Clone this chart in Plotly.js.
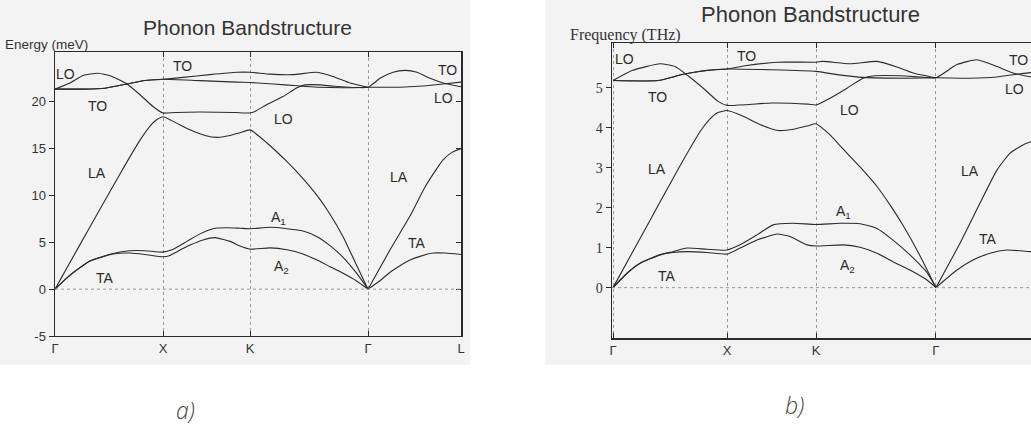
<!DOCTYPE html>
<html><head><meta charset="utf-8">
<script src="https://cdn.plot.ly/plotly-3.0.1.min.js"></script>
<style>html,body{margin:0;padding:0;background:#fff}#chart{width:1031px;height:426px}</style>
</head><body><div id="chart"></div>
<script>
// ---------- high-symmetry path ----------
const symLabels = ['Γ','X','K','Γ','L'];
const symPosA = [0, 1, 1.806, 2.898, 3.759];
const symPosB = [0, 1, 1.781, 2.833, 3.70];

// ---------- panel a) Energy (meV) ----------
const aLA_x = [0,0.231,0.417,0.602,0.787,0.880,0.944,1.0, 1.111,1.25,1.389,1.5,1.620,1.713,1.806, 1.963,2.148,2.296,2.426,2.546,2.667,2.778,2.898, null, 2.898,3.102,3.287,3.426,3.519,3.593,3.676,3.759];
const aLA_y = [0,4.75,8.55,12.3,15.9,17.4,18.1,18.4, 17.8,17.0,16.4,16.2,16.4,16.7,17.0, 15.6,13.6,11.8,10.0,8.0,5.6,2.9,0, null, 0,4.2,7.8,10.9,12.6,13.8,14.6,15.0];
const aA1_x = [0,0.139,0.324,0.537,0.694,0.833,1.0, 1.083,1.222,1.343,1.463,1.593,1.713,1.806, 1.991,2.148,2.296,2.426,2.546,2.667,2.796,2.898];
const aA1_y = [0,1.5,3.0,3.8,4.1,4.1,3.95, 4.2,5.1,5.9,6.45,6.55,6.5,6.45, 6.6,6.45,6.2,5.6,4.65,3.4,1.65,0];
const aA2_x = [0,0.139,0.324,0.537,0.694,0.833,1.0, 1.065,1.130,1.25,1.370,1.481,1.620,1.713,1.806, 1.991,2.148,2.296,2.426,2.546,2.667,2.796,2.898];
const aA2_y = [0,1.5,3.0,3.75,3.85,3.7,3.45, 3.6,4.0,4.7,5.25,5.5,5.1,4.6,4.27, 4.4,4.2,3.75,3.1,2.4,1.7,0.85,0];
const aTAL_x = [2.898,3.009,3.102,3.194,3.287,3.380,3.5,3.611,3.759];
const aTAL_y = [0,0.9,1.8,2.5,3.1,3.5,3.85,3.85,3.7];
const aLO_x = [0,0.139,0.259,0.398,0.528,0.667,0.787,0.907,1.0, 1.111,1.343,1.667,1.806, 1.852,1.963,2.111,2.241,2.315,2.454,2.593,2.898, 3.009,3.130,3.241,3.352,3.472,3.593,3.759];
const aLO_y = [21.35,22.0,22.8,23.05,22.7,21.9,20.75,19.5,18.8, 18.86,18.9,18.85,18.8, 18.97,19.7,20.55,21.5,21.8,21.8,21.65,21.55, 22.5,23.15,23.35,23.15,22.5,22.0,21.6];
const aTO1_x = [0,0.259,0.463,0.667,0.815,1.0, 1.343,1.685,1.806, 2.019,2.241,2.426,2.731,2.898, 3.194,3.444,3.593,3.759];
const aTO1_y = [21.35,21.35,21.45,21.9,22.25,22.4, 22.25,22.1,22.05, 21.9,21.7,21.55,21.5,21.55, 21.55,21.7,21.9,22.1];
const aTO2_x = [0,0.259,0.463,0.667,0.815,1.0, 1.185,1.435,1.685,1.806, 1.991,2.204,2.426,2.574,2.731,2.898];
const aTO2_y = [21.35,21.35,21.45,21.9,22.25,22.4, 22.6,22.9,23.15,23.15, 22.95,22.9,23.15,22.7,22.0,21.55];

// ---------- panel b) Frequency (THz) ----------
const bLA_x = [0,0.237,0.412,0.588,0.763,0.851,0.912,1.0, 1.132,1.289,1.447,1.596,1.711,1.781, 1.904,2.018,2.167,2.316,2.430,2.544,2.693,2.833, null, 2.833,3.044,3.219,3.368,3.482,3.596,3.667,3.70];
const bLA_y = [0,1.23,2.14,3.05,3.9,4.22,4.37,4.43, 4.3,4.08,3.93,3.97,4.05,4.1, 3.82,3.47,3.02,2.53,2.07,1.56,0.8,0, null, 0,1.11,2.11,2.94,3.36,3.57,3.65,3.68];
const bA1_x = [0,0.123,0.237,0.412,0.526,0.649,0.825,1.0, 1.114,1.263,1.404,1.579,1.781, 1.991,2.167,2.316,2.456,2.605,2.754,2.833];
const bA1_y = [0,0.36,0.61,0.82,0.9,0.99,0.96,0.94, 1.07,1.32,1.57,1.61,1.58, 1.61,1.6,1.48,1.19,0.82,0.38,0];
const bA2_x = [0,0.123,0.237,0.412,0.526,0.649,0.825,1.0, 1.114,1.263,1.439,1.553,1.702,1.781, 2.018,2.167,2.316,2.456,2.605,2.754,2.833];
const bA2_y = [0,0.36,0.61,0.82,0.88,0.9,0.88,0.84, 0.99,1.19,1.34,1.28,1.07,1.04, 1.07,1.01,0.86,0.65,0.44,0.19,0];
const bTAL_x = [2.833,3.018,3.158,3.307,3.456,3.667,3.70];
const bTAL_y = [0,0.44,0.69,0.86,0.94,0.9,0.9];
const bLO_x = [0,0.167,0.412,0.544,0.658,0.807,0.921,1.0, 1.395,1.711,1.781, 1.904,2.053,2.193,2.298,2.518,2.693,2.833, 3.018,3.193,3.368,3.509,3.667,3.70];
const bLO_y = [5.18,5.43,5.6,5.53,5.3,4.95,4.66,4.56, 4.62,4.59,4.57, 4.74,4.99,5.24,5.3,5.3,5.27,5.25, 5.58,5.7,5.53,5.37,5.27,5.25];
const bTO1_x = [0,0.395,0.605,0.807,1.0, 1.395,1.781, 1.965,2.193,2.605,2.833, 3.132,3.368,3.544,3.667,3.70];
const bTO1_y = [5.18,5.18,5.33,5.43,5.47, 5.45,5.41, 5.33,5.26,5.24,5.25, 5.24,5.27,5.34,5.38,5.39];
const bTO2_x = [0,0.395,0.605,0.807,1.0, 1.158,1.447,1.781, 1.842,2.079,2.316,2.491,2.632,2.833];
const bTO2_y = [5.18,5.18,5.33,5.43,5.47, 5.55,5.64,5.64, 5.66,5.6,5.66,5.52,5.37,5.25];

// ---------- branch labels (text, x, y in data units) ----------
const labelsA = [
  ['LO',0.097,23.0],['TO',1.185,23.8],['TO',0.398,19.5],['LO',2.111,18.2],
  ['TO',3.63,23.4],['LO',3.60,20.35],['LA',0.389,12.35],['LA',3.185,12.0],
  ['A<sub>1</sub>',2.07,7.6],['TA',3.352,4.88],['A<sub>2</sub>',2.10,2.35],['TA',0.463,1.14]
];
const labelsB = [
  ['LO',0.105,5.72],['TO',1.175,5.79],['TO',0.386,4.77],['LO',2.079,4.44],
  ['TO',3.553,5.69],['LO',3.526,4.97],['LA',0.386,2.97],['LA',3.132,2.92],
  ['A<sub>1</sub>',2.02,1.88],['TA',3.289,1.22],['A<sub>2</sub>',2.055,0.55],['TA',0.474,0.29]
];
const yTicksA = [-5,0,5,10,15,20];
const yTickTextA = ['-5','0','5','10','15','20'];
const yTicksB = [0,1,2,3,4,5];

const SANS = 'Liberation Sans, Arial, sans-serif';
const SERIF = 'Liberation Serif, Times New Roman, serif';
const INK = '#2b2b2b';

function branch(x, y, xa, ya) {
  return {x: x, y: y, xaxis: xa, yaxis: ya, type: 'scatter', mode: 'lines',
    line: {color: INK, width: 1.1, shape: 'spline', smoothing: 0.5},
    connectgaps: false, hoverinfo: 'skip', showlegend: false};
}
const traces = [
  branch(aLA_x,aLA_y,'x','y'), branch(aA1_x,aA1_y,'x','y'), branch(aA2_x,aA2_y,'x','y'),
  branch(aTAL_x,aTAL_y,'x','y'), branch(aLO_x,aLO_y,'x','y'), branch(aTO1_x,aTO1_y,'x','y'),
  branch(aTO2_x,aTO2_y,'x','y'),
  branch(bLA_x,bLA_y,'x2','y2'), branch(bA1_x,bA1_y,'x2','y2'), branch(bA2_x,bA2_y,'x2','y2'),
  branch(bTAL_x,bTAL_y,'x2','y2'), branch(bLO_x,bLO_y,'x2','y2'), branch(bTO1_x,bTO1_y,'x2','y2'),
  branch(bTO2_x,bTO2_y,'x2','y2'),
  {x:[null], y:[null], xaxis:'x', yaxis:'y3', type:'scatter', mode:'lines', showlegend:false, hoverinfo:'skip'}
];

function xAxis(domain, range, pos, anchor) {
  return {domain: domain, range: range, anchor: anchor, tickmode: 'array', tickvals: pos, ticktext: symLabels,
    ticks: 'inside', ticklen: 5, tickcolor: INK, showline: true, linecolor: INK, linewidth: 1.5, mirror: 'ticks',
    showgrid: true, gridcolor: '#9a9a9a', griddash: 'dot', gridwidth: 1, zeroline: false,
    tickfont: {family: SANS, size: 13, color: '#333'}, fixedrange: true};
}
const layout = {
  width: 1031, height: 426, margin: {l:0, r:0, t:0, b:0},
  paper_bgcolor: '#ffffff', plot_bgcolor: '#ffffff', showlegend: false,
  xaxis: xAxis([0.05335, 0.44714], [0, 3.759], symPosA, 'y'),
  yaxis: {domain: [0.21127, 0.87793], range: [-5, 25.31], anchor: 'x', tickmode: 'array', tickvals: yTicksA, ticktext: yTickTextA,
    ticks: 'outside', ticklen: 5, tickcolor: INK, showline: true, linecolor: INK, linewidth: 1.5, mirror: true,
    showgrid: false, zeroline: false, tickfont: {family: SANS, size: 13, color: '#333'}, fixedrange: true},
  yaxis3: {overlaying: 'y', side: 'right', anchor: 'x', range: [-5, 25.31], tickmode: 'array', tickvals: yTicksA,
    ticks: 'inside', ticklen: 5, tickcolor: INK, showticklabels: false, showline: false, showgrid: false, zeroline: false},
  xaxis2: xAxis([0.5936, 1], [-0.009, 3.667], symPosB, 'y2'),
  yaxis2: {domain: [0.20657, 0.89906], range: [-1.26, 6.12], anchor: 'x2', tickmode: 'array', tickvals: yTicksB,
    ticks: 'outside', ticklen: 5, tickcolor: INK, showline: true, linecolor: INK, linewidth: 1.5, mirror: false,
    showgrid: false, zeroline: false, tickfont: {family: SERIF, size: 14, color: '#333'}, fixedrange: true},
  shapes: [
    {type:'rect', xref:'paper', yref:'paper', x0:0, x1:0.456, y0:0.143, y1:1, fillcolor:'#f3f3f3', line:{width:0}, layer:'below'},
    {type:'rect', xref:'paper', yref:'paper', x0:0.529, x1:1, y0:0.143, y1:1, fillcolor:'#f3f3f3', line:{width:0}, layer:'below'},
    {type:'line', xref:'x domain', yref:'y', x0:0, x1:1, y0:0, y1:0, line:{color:'#9a9a9a', width:1, dash:'dot'}},
    {type:'line', xref:'x2 domain', yref:'y2', x0:0, x1:1, y0:0, y1:0, line:{color:'#9a9a9a', width:1, dash:'dot'}}
  ],
  annotations: []
};
labelsA.forEach(l => layout.annotations.push({text: l[0], x: l[1], y: l[2], xref: 'x', yref: 'y', showarrow: false,
  xanchor: 'center', yanchor: 'middle', font: {family: SANS, size: 14, color: '#2b2b2b'}}));
labelsB.forEach(l => layout.annotations.push({text: l[0], x: l[1], y: l[2], xref: 'x2', yref: 'y2', showarrow: false,
  xanchor: 'center', yanchor: 'middle', font: {family: SANS, size: 14, color: '#2b2b2b'}}));
const P = {xref: 'paper', yref: 'paper', showarrow: false, yanchor: 'middle'};
layout.annotations.push(
  Object.assign({text: 'Phonon Bandstructure', x: 0.2396, y: 0.9366, xanchor: 'center',
   font: {family: SANS, size: 21, color: '#333'}}, P),
  Object.assign({text: 'Phonon Bandstructure', x: 0.7866, y: 0.9648, xanchor: 'center',
   font: {family: SANS, size: 22, color: '#333'}}, P),
  Object.assign({text: 'Energy (meV)', x: 0.003, y: 0.8944, xanchor: 'left',
   font: {family: SANS, size: 13.5, color: '#333'}}, P),
  Object.assign({text: 'Frequency (THz)', x: 0.5509, y: 0.9178, xanchor: 'left',
   font: {family: SERIF, size: 16, color: '#333'}}, P),
  Object.assign({text: 'a)', x: 0.1804, y: 0.0376, xanchor: 'center',
   font: {family: 'Open Sans, sans-serif', size: 23, color: '#444', style: 'italic', weight: 300}}, P),
  Object.assign({text: 'b)', x: 0.771, y: 0.0493, xanchor: 'center',
   font: {family: 'Open Sans, sans-serif', size: 23, color: '#444', style: 'italic', weight: 300}}, P)
);
Plotly.newPlot('chart', traces, layout, {staticPlot: true, displayModeBar: false});
</script></body></html>
